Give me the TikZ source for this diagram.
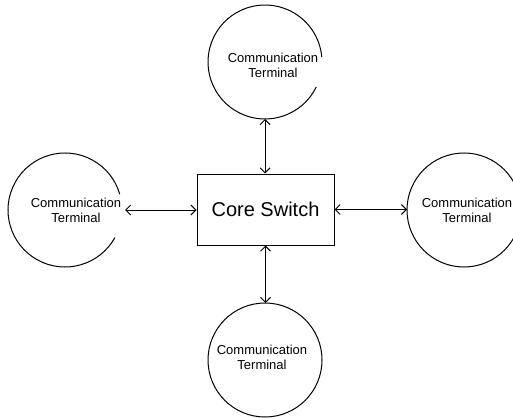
\documentclass[tikz,border=0pt]{standalone}
\usepackage{fontspec}
\setmainfont{Liberation Sans}
\usepackage{tikz}
\usetikzlibrary{arrows.meta}
\tikzset{every picture/.style={line width=0.75pt}}

\begin{document}
\begin{tikzpicture}[x=0.75pt,y=0.75pt,yscale=-1,xscale=1,
    term/.style={circle, minimum size=85.5pt, inner sep=0pt, outer sep=0pt},
    termtext/.style={inner sep=0.75pt, align=center, font=\fontsize{9.75}{11.25}\selectfont},
    link/.style={<->, >={Straight Barb[length=3.75pt,width=7.5pt]}}]
                \useasboundingbox (0,0) rectangle (513,417);
                % terminals
                \node [term] (tTop) at (265,62) {};
                \node [term] (tLeft) at (65,210) {};
                \node [term, draw] (tRight) at (464,210) {};
                \node [term, draw] (tBottom) at (265,360) {};
                \draw ([shift={(26:57)}]tTop.center) arc [start angle=26, end angle=355, radius=57];
                \draw ([shift={(29:57)}]tLeft.center) arc [start angle=29, end angle=344, radius=57];
                \node [termtext] (tTopText) at (273,65) {Communication\\Terminal};
                \node [termtext] (tLeftText) at (76,210) {Communication\\Terminal};
                \node [termtext] (tRightText) at (467,210) {Communication\\Terminal};
                \node [termtext] (tBottomText) at (262,357) {Communication\\Terminal};
                % switch
                \node [draw, minimum width=102.75pt, minimum height=53.25pt, inner sep=0pt, font=\fontsize{15}{18}\selectfont] (core) at (265.5,209.5) {Core Switch};
                % links
                \draw [link] (tTop.south) -- (tTop.south |- core.north);
                \draw [link, shorten <=2.25pt] (tLeft.east) -- (tLeft.east -| core.west);
                \draw [link] (core.east) -- (core.east -| tRight.west);
                \draw [link] (core.south) -- (core.south |- tBottom.north);
\end{tikzpicture}
\end{document}
